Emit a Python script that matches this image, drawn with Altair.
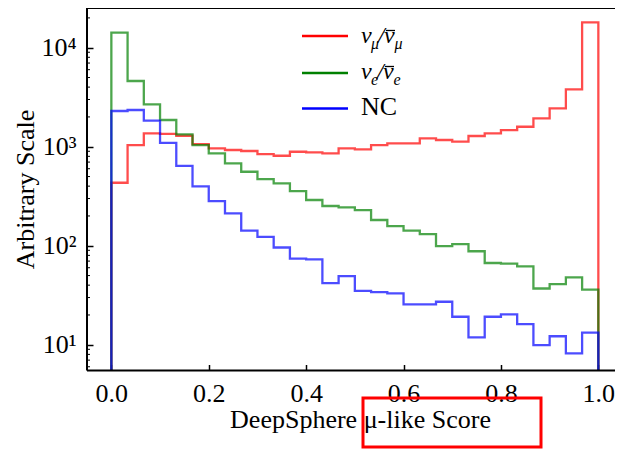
import altair as alt
import pandas as pd

# ---------------- data ----------------
n_bins = 30
series_names = ["numu", "nue", "nc"]
series_colors = ["#ff0000", "#008000", "#0000ff"]

numu_counts = [433, 1040, 1365, 1350, 1291, 1064, 964, 927, 906, 844,
               811, 890, 877, 857, 964, 942, 1040, 1082, 1082, 1216,
               1170, 1125, 1283, 1365, 1475, 1592, 1935, 2442, 3800, 18060]
nue_counts = [14190, 4610, 2680, 1862, 1333, 1040, 857, 680, 559, 472,
              427, 357, 290, 252, 244, 229, 182, 158, 142, 131,
              99, 104, 88, 67, 66, 62, 37, 41, 48, 36]
nc_counts = [2296, 2350, 1832, 1096, 640, 398, 282, 212, 142, 123,
             96, 74, 73, 42, 49.4, 35, 34, 33, 25.6, 25.6,
             27.2, 19.2, 11.9, 19.2, 20.3, 16.2, 9.9, 12.2, 8.2, 13.3]
hist_floor = 1  # histogram baseline (below visible range)

x_tick_values = [0.0, 0.2, 0.4, 0.6, 0.8, 1.0]
y_tick_values = [10, 100, 1000, 10000]
y_tick_labels = ["10\u00b9", "10\u00b2", "10\u00b3", "10\u2074"]
y_minor_values = [6, 7, 8, 9, 20, 30, 40, 50, 60, 70, 80, 90,
                  200, 300, 400, 500, 600, 700, 800, 900,
                  2000, 3000, 4000, 5000, 6000, 7000, 8000, 9000, 20000]

x_title = "DeepSphere \u03bc-like Score"
y_title = "Arbitrary Scale"

# ---------------- build step-histogram table ----------------
rows = []
for name, counts in zip(series_names, [numu_counts, nue_counts, nc_counts]):
    rows.append({"series": name, "order": 0, "x": 0.0, "y": hist_floor})
    for i, c in enumerate(counts):
        rows.append({"series": name, "order": i + 1, "x": i / n_bins, "y": c})
    rows.append({"series": name, "order": n_bins + 1, "x": 1.0, "y": hist_floor})
hist = pd.DataFrame(rows)

W, H = 528, 362.5
FONT = "Liberation Serif"
FS = 26

x_scale = alt.Scale(domain=[-0.05, 1.0342], nice=False, zero=False)
y_scale = alt.Scale(type="log", domain=[5.5, 25180], nice=False)

label_expr = " : ".join(
    f"datum.value == {v} ? '{l}'" for v, l in zip(y_tick_values, y_tick_labels)
) + " : ''"

x_axis = alt.Axis(values=x_tick_values, format=".1f", grid=False, domain=False,
                  offset=-6, tickSize=6, tickWidth=1.5, tickColor="black",
                  labelFont=FONT, labelFontSize=FS, labelColor="black",
                  labelPadding=10, labelFlush=False,
                  title=x_title, titleFont=FONT, titleFontSize=FS,
                  titleFontWeight="normal", titleColor="black",
                  titleX=273, titleY=62.5, titleAlign="center",
                  titleBaseline="alphabetic")
y_axis = alt.Axis(values=y_tick_values, labelExpr=label_expr, grid=False,
                  domain=False, offset=-6, tickSize=6, tickWidth=1.5,
                  tickColor="black", labelFont=FONT, labelFontSize=FS,
                  labelColor="black", labelPadding=11, labelFlush=False,
                  title=y_title, titleFont=FONT, titleFontSize=FS,
                  titleFontWeight="normal", titleColor="black",
                  titleX=-60, titleY=181, titleAngle=270, titleAlign="center",
                  titleBaseline="alphabetic")

layers = []
for name, col in zip(series_names, series_colors):
    layers.append(
        alt.Chart(hist).transform_filter(alt.datum.series == name)
        .mark_line(interpolate="step-after", clip=True, color=col,
                   strokeWidth=2.3, opacity=0.7)
        .encode(x=alt.X("x:Q", scale=x_scale, axis=x_axis),
                y=alt.Y("y:Q", scale=y_scale, axis=y_axis),
                order="order:Q")
    )

# minor ticks on the log axis (inside)
minor = pd.DataFrame({"y": y_minor_values})
layers.append(
    alt.Chart(minor).mark_rule(color="black", strokeWidth=1, clip=True)
    .encode(y=alt.Y("y:Q", scale=y_scale, axis=y_axis),
            x=alt.value(0), x2=alt.value(3))
)

one = pd.DataFrame({"k": [0]})

# frame (left, top, bottom)
frame_style = dict(color="black", strokeWidth=2)
layers.append(alt.Chart(one).mark_rule(**frame_style).encode(
    x=alt.value(0), y=alt.value(0), y2=alt.value(H)))
layers.append(alt.Chart(one).mark_rule(**frame_style).encode(
    x=alt.value(0), x2=alt.value(W), y=alt.value(0)))
layers.append(alt.Chart(one).mark_rule(**frame_style).encode(
    x=alt.value(0), x2=alt.value(W), y=alt.value(H)))

# legend (hand-built so the labels can carry subscripts and bars)
legend_rows_y = [28, 65, 100.5]
for col, ly in zip(series_colors, legend_rows_y):
    layers.append(alt.Chart(one).mark_rule(color=col, strokeWidth=2.3).encode(
        x=alt.value(215), x2=alt.value(261), y=alt.value(ly)))


def piece(text, x, y, size, italic=True):
    return alt.Chart(one).mark_text(
        text=text, font=FONT, fontSize=size, align="left",
        baseline="alphabetic", color="black",
        fontStyle="italic" if italic else "normal",
    ).encode(x=alt.value(x), y=alt.value(y))


def bar(x1, x2, y):
    return alt.Chart(one).mark_rule(color="black", strokeWidth=1.3).encode(
        x=alt.value(x1), x2=alt.value(x2), y=alt.value(y))


MAIN, SUB = 24, 16
# row 1: nu_mu / nubar_mu
layers += [piece("\u03bd", 274, 35, MAIN), piece("\u03bc", 284, 41, SUB),
           piece("/", 291, 35, MAIN), piece("\u03bd", 297, 35, MAIN),
           bar(299, 308, 22.5), piece("\u03bc", 307.5, 41, SUB)]
# row 2: nu_e / nubar_e
layers += [piece("\u03bd", 274, 71, MAIN), piece("e", 284, 77, SUB),
           piece("/", 290, 71, MAIN), piece("\u03bd", 296, 71, MAIN),
           bar(298, 307, 58.5), piece("e", 306.5, 77, SUB)]
# row 3: NC
layers.append(piece("NC", 274, 107, FS, italic=False))

# red annotation box from the reference image
layers.append(alt.Chart(one).mark_rect(fillOpacity=0, stroke="#ff0000",
                                       strokeWidth=3).encode(
    x=alt.value(276), x2=alt.value(454), y=alt.value(390), y2=alt.value(439)))

chart = alt.layer(*layers).properties(
    width=W, height=H,
    autosize=alt.AutoSizeParams(type="none"),
    padding={"left": 79, "top": 0, "right": 0, "bottom": 79.5},
    background="white",
).configure_view(stroke="transparent")

chart.save("out.html", embed_options={"renderer": "svg", "actions": False})
